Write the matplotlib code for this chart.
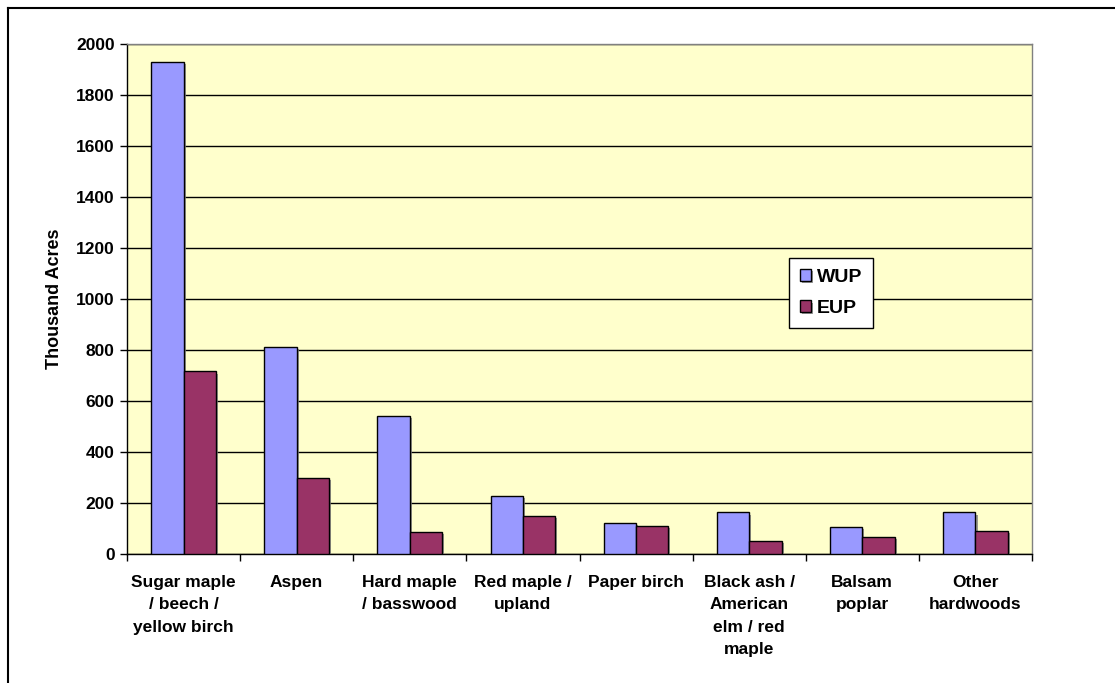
import matplotlib
matplotlib.use("Agg")
import matplotlib.pyplot as plt
import matplotlib.patheffects as pe
import numpy as np

categories = ["Sugar maple\n/ beech /\nyellow birch", "Aspen", "Hard maple\n/ basswood",
              "Red maple /\nupland", "Paper birch", "Black ash /\nAmerican\nelm / red\nmaple",
              "Balsam\npoplar", "Other\nhardwoods"]
wup = [1930, 813, 541, 227, 122, 163, 105, 163]
eup = [716, 299, 87, 148, 109, 50, 67, 91]
series_names = ["WUP", "EUP"]
yticks = [0, 200, 400, 600, 800, 1000, 1200, 1400, 1600, 1800, 2000]

plt.rcParams['font.family'] = ['Liberation Sans', 'DejaVu Sans']
plt.rcParams['font.weight'] = 'bold'

fig = plt.figure(figsize=(11.15, 6.83), dpi=100)
ax = fig.add_axes([127/1115, 1-554/683, (1032-127)/1115, (554-44)/683])
ax.set_facecolor("#FFFFCC")

x = np.arange(len(categories))
w = 1/3.5
shadow = [pe.SimplePatchShadow(offset=(1.5, -1.5), shadow_rgbFace="#808080", alpha=0.8), pe.Normal()]
b1 = ax.bar(x - w/2, wup, w, color="#9999FF", edgecolor="black", linewidth=1, label=series_names[0], zorder=3)
b2 = ax.bar(x + w/2, eup, w, color="#993366", edgecolor="black", linewidth=1, label=series_names[1], zorder=3)
for b in list(b1) + list(b2):
    b.set_path_effects(shadow)

ax.set_xlim(-0.5, len(categories) - 0.5)
ax.set_ylim(0, 2000)
ax.set_yticks(yticks)
ax.set_yticklabels([str(v) for v in yticks], fontsize=12.5, fontweight='bold')
ax.yaxis.grid(True, color="black", linewidth=1, zorder=0)
ax.set_axisbelow(True)

ax.set_xticks(x)
ax.set_xticklabels(categories, fontsize=12.5, fontweight='bold', linespacing=1.62, va='top')
ax.tick_params(axis='x', which='major', length=0, pad=15)
ax.set_xticks(np.arange(-0.5, len(categories)), minor=True)
ax.tick_params(axis='x', which='minor', length=5, width=1, color='black', direction='out')
ax.tick_params(axis='y', length=5, width=1, color='black', direction='out', pad=4)

for s in ['top', 'right']:
    ax.spines[s].set_color("#808080")
for s in ['left', 'bottom']:
    ax.spines[s].set_color("black")
for s in ax.spines.values():
    s.set_linewidth(1)

ax.set_ylabel("Thousand Acres", fontsize=13, fontweight='bold', labelpad=9)

leg = ax.legend(loc='upper left', bbox_to_anchor=((789-127)/905, (554-258)/510),
                borderaxespad=0, frameon=True, fancybox=False, edgecolor='black',
                handlelength=0.57, handleheight=0.57, handletextpad=0.3,
                labelspacing=0.75, borderpad=0.55, prop={'weight': 'bold', 'size': 14})
leg.get_frame().set_linewidth(1)
leg.get_frame().set_facecolor('white')
leg.get_frame().set_alpha(1)

# outer chart border (top and left visible)
fig.add_artist(plt.Line2D([8/1115, 8/1115], [0, 1-8/683], transform=fig.transFigure, color='black', linewidth=1.5))
fig.add_artist(plt.Line2D([8/1115, 1], [1-8/683, 1-8/683], transform=fig.transFigure, color='black', linewidth=1.5))

fig.savefig("out.png", dpi=100)
